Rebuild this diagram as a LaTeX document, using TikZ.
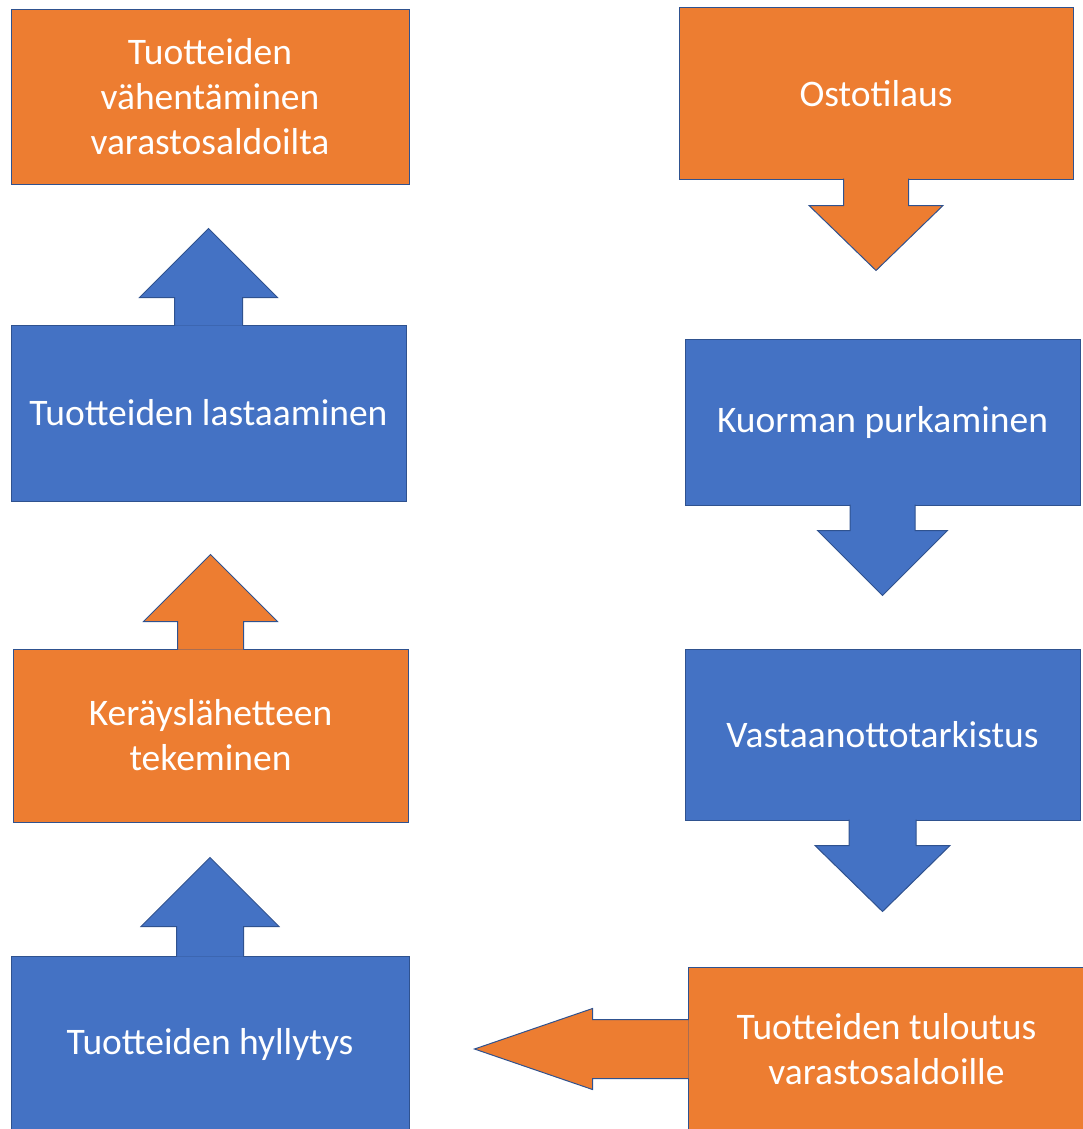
\documentclass[tikz,border=0pt]{standalone}
\usepackage{fontspec}
\setmainfont{Carlito}
\usepackage{tikz}
\usepackage{xcolor}
\definecolor{off_orange}{RGB}{237,125,49}
\definecolor{off_blue}{RGB}{68,114,196}
\definecolor{off_edge}{RGB}{47,82,143}
\usetikzlibrary{calc}

\tikzset{
  box/.style={rectangle, draw=off_edge, line width=1pt, text=white, align=center,
    font=\fontsize{37.5}{45}\selectfont, inner sep=0pt},
  obox/.style={box, fill=off_orange},
  bbox/.style={box, fill=off_blue},
  otab/.style={fill=off_orange, draw=off_edge, line width=1pt, line join=miter},
  btab/.style={fill=off_blue, draw=off_edge, line width=1pt, line join=miter}
}

\begin{document}
\begin{tikzpicture}[x=1pt,y=-1pt]
            \useasboundingbox (0,0) rectangle (1083,1129);
            %vasen sarake
            \node[obox, minimum width=398pt, minimum height=174pt] (vahennys) at (210,97)
                {Tuotteiden\\vähentäminen\\varastosaldoilta};
            \node[bbox, minimum width=395pt, minimum height=176pt] (lastaus) at (208.5,413)
                {Tuotteiden lastaaminen};
            \node[obox, minimum width=395pt, minimum height=173pt] (kerays) at (210.5,735.5)
                {Keräyslähetteen\\tekeminen};
            \node[bbox, minimum width=398pt, minimum height=176pt] (hyllytys) at (210,1044)
                {Tuotteiden hyllytys};
            %oikea sarake
            \node[obox, minimum width=394pt, minimum height=171pt] (ostotilaus) at (876,93.5)
                {Ostotilaus};
            \node[bbox, minimum width=395pt, minimum height=166pt] (purku) at (882.5,422)
                {Kuorman purkaminen};
            \node[bbox, minimum width=395pt, minimum height=171pt] (tarkistus) at (882.5,734.5)
                {Vastaanottotarkistus};
            \node[obox, minimum width=397pt, minimum height=164pt] (tuloutus) at (886.5,1049)
                {Tuotteiden tuloutus\\varastosaldoille};
            %nuolet ylos
            \filldraw[btab] ($(lastaus.north)+(-34,1)$)--($(lastaus.north)+(-34,-27)$)
                --($(lastaus.north)+(-69,-27)$)--($(lastaus.north)+(0,-96)$)
                --($(lastaus.north)+(69,-27)$)--($(lastaus.north)+(34,-27)$)--($(lastaus.north)+(34,1)$);
            \filldraw[otab] ($(kerays.north)+(-33,1)$)--($(kerays.north)+(-33,-27)$)
                --($(kerays.north)+(-67,-27)$)--($(kerays.north)+(0,-94)$)
                --($(kerays.north)+(67,-27)$)--($(kerays.north)+(33,-27)$)--($(kerays.north)+(33,1)$);
            \filldraw[btab] ($(hyllytys.north)+(-33.5,1)$)--($(hyllytys.north)+(-33.5,-29)$)
                --($(hyllytys.north)+(-69,-29)$)--($(hyllytys.north)+(0,-98)$)
                --($(hyllytys.north)+(69,-29)$)--($(hyllytys.north)+(33.5,-29)$)--($(hyllytys.north)+(33.5,1)$);
            %nuolet alas
            \filldraw[otab] ($(ostotilaus.south)+(-32.5,-1)$)--($(ostotilaus.south)+(-32.5,26)$)
                --($(ostotilaus.south)+(-67,26)$)--($(ostotilaus.south)+(0,91)$)
                --($(ostotilaus.south)+(67,26)$)--($(ostotilaus.south)+(32.5,26)$)--($(ostotilaus.south)+(32.5,-1)$);
            \filldraw[btab] ($(purku.south)+(-32.5,-1)$)--($(purku.south)+(-32.5,25)$)
                --($(purku.south)+(-65,25)$)--($(purku.south)+(0,90)$)
                --($(purku.south)+(65,25)$)--($(purku.south)+(32.5,25)$)--($(purku.south)+(32.5,-1)$);
            \filldraw[btab] ($(tarkistus.south)+(-33.5,-1)$)--($(tarkistus.south)+(-33.5,25)$)
                --($(tarkistus.south)+(-67.5,25)$)--($(tarkistus.south)+(0,91)$)
                --($(tarkistus.south)+(67.5,25)$)--($(tarkistus.south)+(33.5,25)$)--($(tarkistus.south)+(33.5,-1)$);
            %nuoli vasemmalle
            \filldraw[otab] ($(tuloutus.west)+(1,-29.5)$)--($(tuloutus.west)+(-95,-29.5)$)
                --($(tuloutus.west)+(-95,-40.5)$)--($(tuloutus.west)+(-213,0)$)
                --($(tuloutus.west)+(-95,40.5)$)--($(tuloutus.west)+(-95,29.5)$)--($(tuloutus.west)+(1,29.5)$);
        \end{tikzpicture}
\end{document}
